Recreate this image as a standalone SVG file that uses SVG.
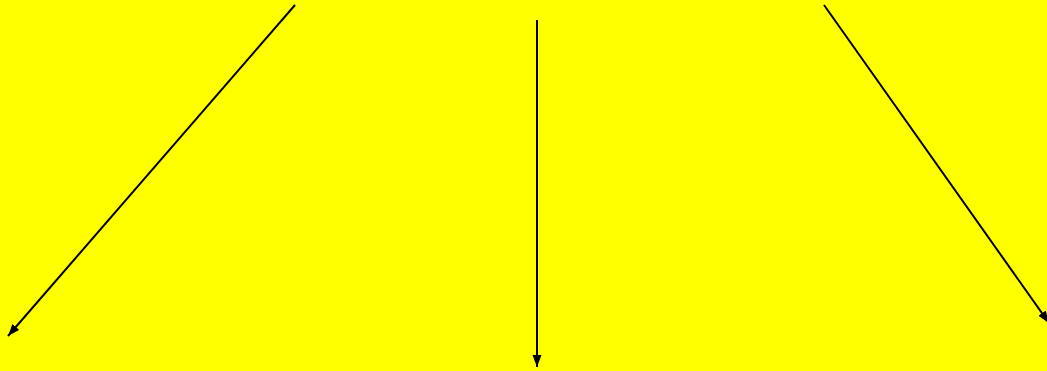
<svg xmlns="http://www.w3.org/2000/svg" width="1047" height="371" viewBox="0 0 1047 371">
<style>.c{stroke:#000;stroke-width:2;fill:none;marker-end:url(#ah)}</style>
<defs><marker id="ah" markerUnits="userSpaceOnUse" markerWidth="12" markerHeight="10" refX="12" refY="4.5" orient="auto"><path d="M0,0 L12,4.5 L0,9 z" fill="#000"/></marker></defs>
<rect width="1047" height="371" fill="#ffff00"/>
<g id="connectors">
<line class="c" x1="295" y1="5" x2="8" y2="336"/>
<line class="c" x1="537" y1="20" x2="537" y2="367"/>
<line class="c" x1="824" y1="5" x2="1049" y2="323"/>
</g>
</svg>
